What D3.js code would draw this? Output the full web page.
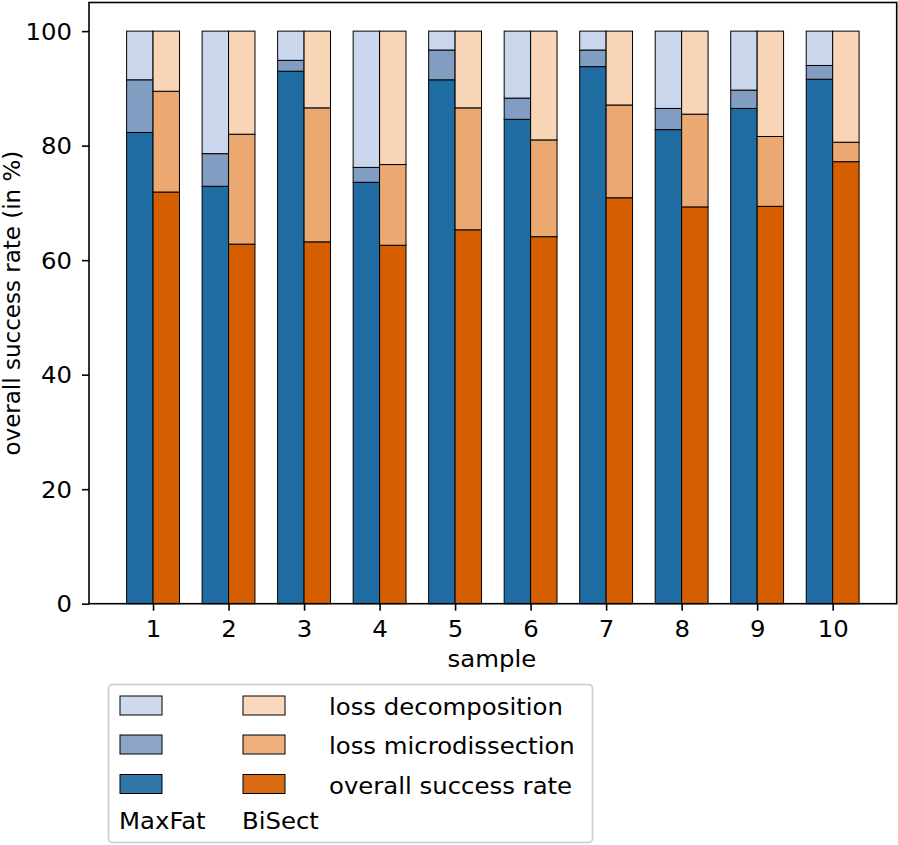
<!DOCTYPE html>
<html>
<head>
<meta charset="utf-8">
<script src="https://cdn.jsdelivr.net/npm/d3@7"></script>
<style>
  html, body { margin: 0; padding: 0; background: #fff; }
  svg { display: block; font-family: "DejaVu Sans", sans-serif; }
</style>
</head>
<body>
<svg id="chart" width="898" height="845"></svg>
<script>
// ---- data ----
const samples = [1, 2, 3, 4, 5, 6, 7, 8, 9, 10];
const yTicks = [0, 20, 40, 60, 80, 100];
const methods = ["MaxFat", "BiSect"];
const segmentLabels = ["overall success rate", "loss microdissection", "loss decomposition"];

const maxfatSuccess = [82.3, 72.9, 93.0, 73.6, 91.5, 84.6, 93.8, 82.8, 86.5, 91.6];
const maxfatLossMicro = [9.2, 5.7, 1.9, 2.6, 5.2, 3.7, 2.9, 3.7, 3.2, 2.4];
const maxfatLossDecomp = [8.5, 21.4, 5.1, 23.8, 3.3, 11.7, 3.3, 13.5, 10.3, 6.0];

const bisectSuccess = [71.9, 62.8, 63.2, 62.6, 65.3, 64.1, 70.9, 69.3, 69.4, 77.2];
const bisectLossMicro = [17.6, 19.2, 23.4, 14.1, 21.3, 16.9, 16.2, 16.2, 12.2, 3.4];
const bisectLossDecomp = [10.5, 18.0, 13.4, 23.3, 13.4, 19.0, 12.9, 14.5, 18.4, 19.4];

// ---- styles ----
const colors = {
  MaxFat: ["#1f6ca3", "#829dc2", "#cad6ec"],
  BiSect: ["#d55e00", "#eca871", "#f8d5b7"]
};
const fontSize = 23;
const sx = 1.06; // horizontal glyph stretch seen in the reference

const svg = d3.select("#chart");
const L = 89, R = 896.7, T = 2.5, B = 603.7;

const x = d3.scaleLinear().domain([0.152, 10.848]).range([L, R]);
const y = d3.scaleLinear().domain([0, 105]).range([B, T]);
const barW = 0.35;

const keys = ["s", "m", "d"];
function rows(s, m, d) {
  return samples.map((k, i) => ({ sample: k, s: s[i], m: m[i], d: d[i] }));
}
const series = {
  MaxFat: d3.stack().keys(keys)(rows(maxfatSuccess, maxfatLossMicro, maxfatLossDecomp)),
  BiSect: d3.stack().keys(keys)(rows(bisectSuccess, bisectLossMicro, bisectLossDecomp))
};
const offsets = { MaxFat: -barW, BiSect: 0 };

methods.forEach(meth => {
  series[meth].forEach((layer, li) => {
    svg.append("g").selectAll("rect").data(layer).join("rect")
      .attr("x", d => x(d.data.sample + offsets[meth]))
      .attr("width", x(barW) - x(0))
      .attr("y", d => y(d[1]))
      .attr("height", d => y(d[0]) - y(d[1]))
      .attr("fill", colors[meth][li])
      .attr("stroke", "#000")
      .attr("stroke-width", 1);
  });
});

// axes frame
svg.append("rect").attr("x", L).attr("y", T).attr("width", R - L).attr("height", B - T)
  .attr("fill", "none").attr("stroke", "#000").attr("stroke-width", 1.6);

const xAxis = svg.append("g").attr("transform", `translate(0,${B})`)
  .call(d3.axisBottom(x).tickValues(samples).tickFormat(d3.format("d")).tickSize(7).tickPadding(10));
const yAxis = svg.append("g").attr("transform", `translate(${L},0)`)
  .call(d3.axisLeft(y).tickValues(yTicks).tickSize(7).tickPadding(10));
[xAxis, yAxis].forEach(a => {
  a.select(".domain").remove();
  a.selectAll("line").attr("stroke", "#000").attr("stroke-width", 1.6);
  a.selectAll("text").attr("font-size", fontSize).attr("fill", "#000")
    .attr("font-family", "DejaVu Sans, sans-serif");
});
xAxis.selectAll("text").attr("transform", `scale(${sx},1)`);
yAxis.selectAll("text").attr("dy", "0.36em").attr("x", 0)
  .attr("transform", `translate(-17,0) scale(${sx},1)`);

function htext(parent, px, py, str, anchor) {
  return parent.append("text")
    .attr("transform", `translate(${px},${py}) scale(${sx},1)`)
    .attr("text-anchor", anchor || "start")
    .attr("font-size", fontSize).attr("fill", "#000").text(str);
}

htext(svg, (L + R) / 2 - 1, 666.5, "sample", "middle");
svg.append("text").attr("transform", `translate(19.5,${(T + B) / 2}) rotate(-90)`)
  .attr("text-anchor", "middle").attr("font-size", fontSize).text("overall success rate (in %)");

// legend
const lg = svg.append("g");
lg.append("rect").attr("x", 108.5).attr("y", 684.5).attr("width", 484).attr("height", 158)
  .attr("rx", 4).attr("fill", "#fff").attr("stroke", "#cccccc").attr("stroke-width", 1.6);
const rowY = [696, 735, 774.5];
const colX = { MaxFat: 120, BiSect: 243 };
methods.forEach(meth => {
  [2, 1, 0].forEach((li, ri) => {
    lg.append("rect").attr("x", colX[meth]).attr("y", rowY[ri]).attr("width", 42).attr("height", 19)
      .attr("fill", colors[meth][li]).attr("fill-opacity", 0.92)
      .attr("stroke", "#000").attr("stroke-width", 1);
  });
  htext(lg, colX[meth] - 1, 828.5, meth);
});
[2, 1, 0].forEach((li, ri) => {
  htext(lg, 329, rowY[ri] + 19, segmentLabels[li]);
});
</script>
</body>
</html>
